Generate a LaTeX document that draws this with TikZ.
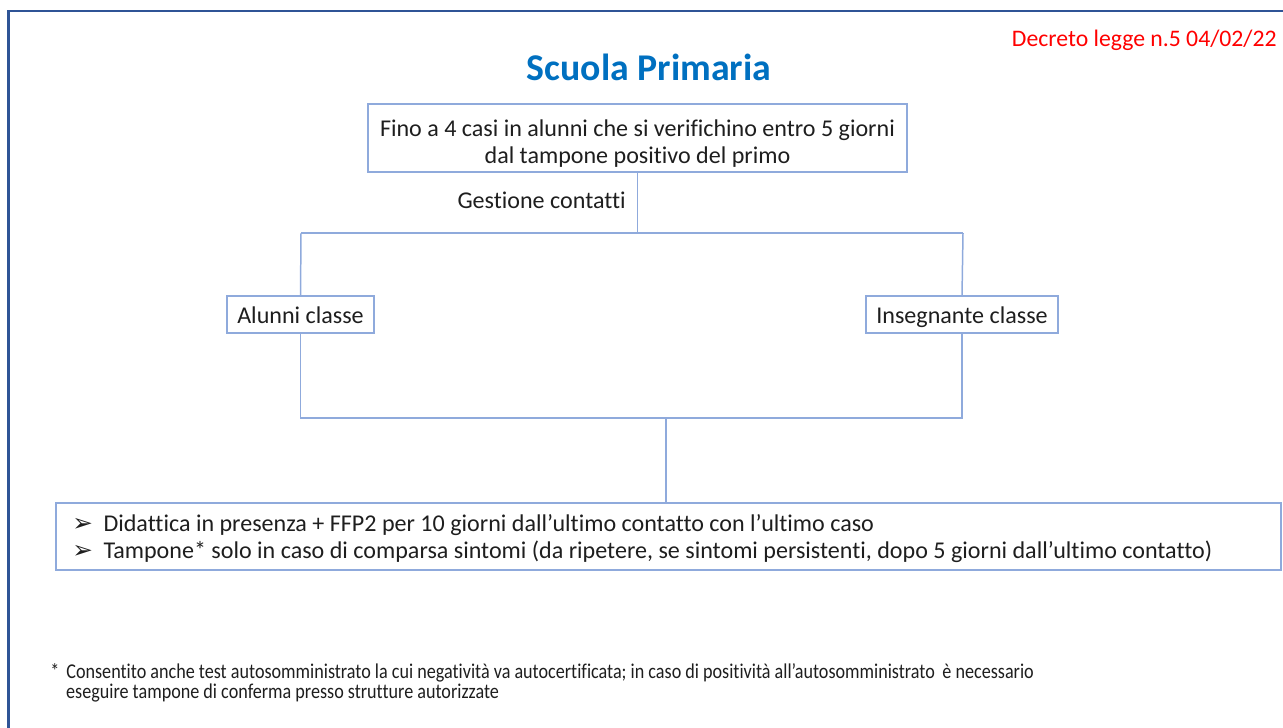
\documentclass[tikz,border=0pt]{standalone}
\usepackage{fontspec}
\setmainfont[Ligatures=NoCommon]{Carlito}
\newfontfamily\dejavu{DejaVu Sans}
\newfontfamily\condfont[FakeStretch=0.86,Ligatures=NoCommon]{Carlito}
\definecolor{frameblue}{HTML}{2F5496}
\definecolor{boxblue}{HTML}{8FAADC}
\definecolor{titleblue}{HTML}{0070C0}
\definecolor{txt}{HTML}{1E1E1E}
\tikzset{
  px/.style={x=0.02cm,y=-0.02cm},
  flowbox/.style={draw=boxblue,line width=0.85pt,inner sep=0pt,align=center,text=txt,font=\fontsize{13.7pt}{15.3pt}\selectfont,text height=12pt,text depth=2pt},
  conn/.style={draw=boxblue,line width=0.85pt},
  plain/.style={inner sep=0pt,text=txt,font=\fontsize{13.7pt}{15.3pt}\selectfont}
}
\newcommand\bulmark{{\dejavu\fontsize{14pt}{14pt}\selectfont ➢}}
\begin{document}
\begin{tikzpicture}[px]
\useasboundingbox (0,0) rectangle (1283,727);
\draw[frameblue,line width=1.4pt] (8.5,740) -- (8.5,11) -- (1300,11);
\node[inner sep=0pt,text=titleblue,font=\fontsize{21.5pt}{24pt}\selectfont\bfseries] (title) at (649,67) {Scuola Primaria};
\node[inner sep=0pt,text=red,anchor=east,font=\fontsize{13.5pt}{15pt}\selectfont] (decr) at (1277,40) {Decreto legge n.5 04/02/22};
\node[flowbox,minimum width=539*0.02cm,minimum height=68*0.02cm] (top) at (637.5,138) {};
\node[plain,anchor=base] (t1) at (637.5,136) {Fino a 4 casi in alunni che si verifichino entro 5 giorni};
\node[plain,anchor=base] (t2) at (637.5,163) {dal tampone positivo del primo};
\node[plain,anchor=base east] (gest) at (626,208) {Gestione contatti};
\coordinate (hL) at (301,233);
\coordinate (hR) at (963,233);
\node[flowbox,minimum width=147*0.02cm,minimum height=37*0.02cm] (al) at (300.5,314.5) {Alunni classe};
\node[flowbox,minimum width=192*0.02cm,minimum height=37*0.02cm] (ins) at (962,314.5) {Insegnante classe};
\coordinate (bL) at (301,418);
\coordinate (m) at (666,418);
\node[flowbox,minimum width=1225*0.02cm,minimum height=67*0.02cm] (bot) at (668.5,536.5) {};
\node[plain,anchor=base west] (l1) at (72,531) {\bulmark\hspace{6pt}Didattica in presenza + FFP2 per 10 giorni dall’ultimo contatto con l’ultimo caso};
\node[plain,anchor=base west] (l2) at (72,558) {\bulmark\hspace{6pt}Tampone* solo in caso di comparsa sintomi (da ripetere, se sintomi persistenti, dopo 5 giorni dall’ultimo contatto)};
\draw[conn] (top.south) -- (top.south |- hL);
\draw[conn] (hL) -- (hR);
\draw[conn] (hL) -- (al.north);
\draw[conn] (hR) -- (ins.north);
\draw[conn] (al.south) -- (al.south |- bL) -- (ins.south |- bL) -- (ins.south);
\draw[conn] (m) -- (m |- bot.north);
\node[inner sep=0pt,anchor=west,text=txt,font=\condfont\fontsize{12pt}{11.3pt}\selectfont,align=left] (foot) at (50,683) {*\hspace{4pt}Consentito anche test autosomministrato la cui negatività va autocertificata; in caso di positività all’autosomministrato \,è necessario\\\hspace{9pt}eseguire tampone di conferma presso strutture autorizzate};
\end{tikzpicture}
\end{document}
